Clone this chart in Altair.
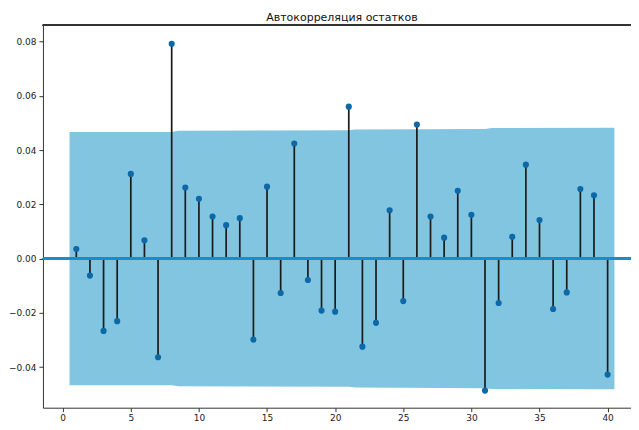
import altair as alt
import pandas as pd

lags = list(range(1, 41))
acf_values = [
    0.0035, -0.0063, -0.0267, -0.0231, 0.0312, 0.0067, -0.0364, 0.0792, 0.0262, 0.0220,
    0.0155, 0.0123, 0.0149, -0.0299, 0.0265, -0.0127, 0.0424, -0.0079, -0.0192, -0.0196,
    0.0560, -0.0325, -0.0237, 0.0178, -0.0157, 0.0494, 0.0155, 0.0077, 0.0250, 0.0161,
    -0.0487, -0.0164, 0.0080, 0.0346, 0.0142, -0.0186, -0.0125, 0.0256, 0.0233, -0.0428,
]

band_lag = [0.5, 8.0, 8.5, 21.0, 21.5, 31.0, 31.5, 40.5]
band_upper = [0.0467, 0.0467, 0.0471, 0.0473, 0.0476, 0.0478, 0.0481, 0.0482]
band_lower = [-0.0467, -0.0467, -0.0471, -0.0473, -0.0476, -0.0478, -0.0481, -0.0482]

x_ticks = [0, 5, 10, 15, 20, 25, 30, 35, 40]
y_ticks = [-0.04, -0.02, 0.0, 0.02, 0.04, 0.06, 0.08]

title_text = "Автокорреляция остатков"

W = 599
H = 383

acf_df = pd.DataFrame({"lag": lags, "acf": acf_values, "zero": [0.0] * len(lags)})
band_df = pd.DataFrame({"lag": band_lag, "upper": band_upper, "lower": band_lower})

xscale = alt.Scale(domain=[-1.45, 42.45], nice=False, zero=False)
yscale = alt.Scale(domain=[-0.055, 0.086], nice=False, zero=False)

xaxis = alt.Axis(values=x_ticks, format="d", title=None, grid=False,
                 labelFont="DejaVu Sans", labelFontSize=9, labelColor="#222",
                 domainColor="#333", tickColor="#333", tickSize=4, labelPadding=2)
yaxis = alt.Axis(values=y_ticks, format=".2f", title=None, grid=False,
                 labelFont="DejaVu Sans", labelFontSize=9, labelColor="#222",
                 domainColor="#333", tickColor="#333", tickSize=4, labelPadding=3)

band = alt.Chart(band_df).mark_area(color="#82c5e0", opacity=1).encode(
    x=alt.X("lag:Q", scale=xscale, axis=xaxis),
    y=alt.Y("upper:Q", scale=yscale, axis=yaxis),
    y2="lower:Q",
)

stems = alt.Chart(acf_df).mark_rule(color="#1a1a1a", strokeWidth=1.7).encode(
    x=alt.X("lag:Q", scale=xscale),
    y=alt.Y("zero:Q", scale=yscale),
    y2="acf:Q",
)

zero_line = alt.Chart(acf_df).mark_rule(color="#1b8ccb", strokeWidth=2).encode(
    x=alt.value(0), x2=alt.value(W), y=alt.Y("zero:Q", scale=yscale)
)

points = alt.Chart(acf_df).mark_circle(color="#0b69a8", opacity=1, size=38).encode(
    x=alt.X("lag:Q", scale=xscale),
    y=alt.Y("acf:Q", scale=yscale),
)

top_spine = alt.Chart(acf_df).mark_rule(color="#333", strokeWidth=1).encode(
    x=alt.value(0), x2=alt.value(W), y=alt.value(0)
)

chart = alt.layer(band, stems, zero_line, points, top_spine).properties(
    width=W,
    height=H,
    padding={"left": 0, "top": 3, "right": -11, "bottom": 0},
    title=alt.TitleParams(title_text, font="DejaVu Sans", fontSize=11,
                          fontWeight="normal", color="#111", anchor="middle", offset=2),
).configure_view(stroke=None)

chart.save("out.html", embed_options={"renderer": "svg", "actions": False})
